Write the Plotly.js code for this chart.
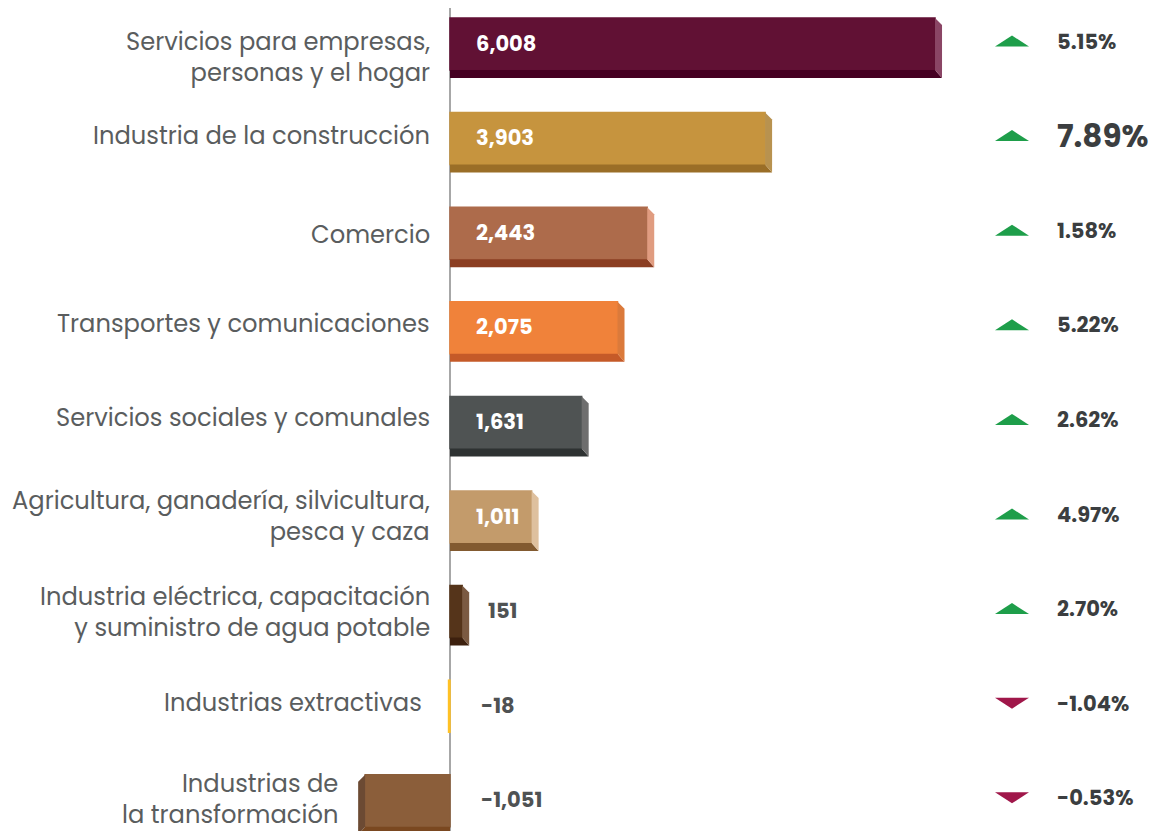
<!DOCTYPE html>
<html><head><meta charset="utf-8">
<script src="https://cdn.plot.ly/plotly-3.0.1.min.js"></script>
<style>html,body{margin:0;padding:0;background:#fff}#chart{width:1156px;height:831px}</style>
</head><body><div id="chart"></div>
<script>
const categories = [
  "Servicios para empresas,<br>personas y el hogar",
  "Industria de la construcción",
  "Comercio",
  "Transportes y comunicaciones",
  "Servicios sociales y comunales",
  "Agricultura, ganadería, silvicultura,<br>pesca y caza",
  "Industria eléctrica, capacitación<br>y suministro de agua potable",
  "Industrias extractivas",
  "Industrias de<br>la transformación"
];
const values = [6008, 3903, 2443, 2075, 1631, 1011, 151, -18, -1051];
const valueLabels = ["6,008", "3,903", "2,443", "2,075", "1,631", "1,011", "151", "-18", "-1,051"];
const pctChange = [5.15, 7.89, 1.58, 5.22, 2.62, 4.97, 2.70, -1.04, -0.53];
const pctLabels = ["5.15%", "7.89%", "1.58%", "5.22%", "2.62%", "4.97%", "2.70%", "-1.04%", "-0.53%"];

const frontColors = ["#611134","#C6943E","#AD6B4B","#F0823A","#4F5353","#C39B6B","#55341A","#FFC125","#8B5E3A"];
const bottomColors = ["#450022","#9A6E27","#8B3E22","#C55A28","#2E3232","#825A30","#3D200E","#FFC125","#7A4820"];
const sideColors = ["#8A4565","#B8924F","#E09C80","#DB7A3B","#6E6E6E","#DEC09E","#7B5A42","#FFC125","#6C4A33"];
const labelYShift = [-13, 3, -1, 4, 5, 1, 0, 4, 2];

const FONT = 'Poppins, Inter, "Open Sans", sans-serif';
const W = 1156, H = 831;
const pxPerUnit = 0.08073;      // horizontal scale
const zeroPx = 450;
const xMin = -zeroPx / pxPerUnit, xMax = (W - zeroPx) / pxPerUnit;
const rowPx = 94.6, firstCenterPx = 48;
const yTop = -firstCenterPx / rowPx, yBottom = yTop + H / rowPx;

const half = 30 / rowPx;          // half bar height (60px)
const bevelH = 8 / rowPx;         // bottom bevel height
const bevelDy = 7 / rowPx;        // top slant of side
const bevelDxPx = 7;

const idx = values.map((v, i) => i);
const maxAbsPct = Math.max(...pctChange.map(Math.abs));

const shapes = [];
const annotations = [];

values.forEach((v, i) => {
  const s = v >= 0 ? 1 : -1;
  const dx = s * Math.min(bevelDxPx, Math.abs(v) * pxPerUnit) / pxPerUnit;
  const top = i - half, bot = i + half, fb = i + half - bevelH;
  if (Math.abs(v) * pxPerUnit > 4) {
    shapes.push({type:'path', xref:'x', yref:'y', layer:'above', line:{width:0},
      fillcolor: bottomColors[i],
      path:`M 0 ${fb} L ${v} ${fb} L ${v+dx} ${bot} L 0 ${bot} Z`});
    shapes.push({type:'path', xref:'x', yref:'y', layer:'above', line:{width:0},
      fillcolor: sideColors[i],
      path:`M ${v} ${top} L ${v+dx} ${top+bevelDy} L ${v+dx} ${bot} L ${v} ${fb} Z`});
  }

  const inside = v > 500;
  annotations.push({xref:'x', yref:'y', x: inside ? 0 : Math.max(v,0), y: i - bevelH/2,
    xanchor:'left', yanchor:'middle', xshift: v < 0 ? 29 : 24, yshift: 1, showarrow:false,
    text:'<b>'+valueLabels[i]+'</b>',
    font:{family:FONT, size:21, color: inside ? '#ffffff' : '#4f5253'}});

  annotations.push({xref:'x', yref:'y', x: Math.min(v,0), y: i - bevelH/2,
    xanchor:'right', yanchor:'middle', align:'right', xshift: v < 0 ? -25 : -18,
    yshift: labelYShift[i], showarrow:false,
    text: categories[i],
    font:{family:FONT, size:24.2, color:'#5a5d5e'}});

  const up = pctChange[i] >= 0;
  const cx = 1012 / W, hw = 17 / W, th = 11 / rowPx, cy = i - bevelH/2 - 3/rowPx;
  const path = up
    ? `M ${cx-hw} ${cy+th/2} L ${cx+hw} ${cy+th/2} L ${cx} ${cy-th/2} Z`
    : `M ${cx-hw} ${cy-th/2} L ${cx+hw} ${cy-th/2} L ${cx} ${cy+th/2} Z`;
  shapes.push({type:'path', xref:'paper', yref:'y', line:{width:0},
    fillcolor: up ? '#1E9E4A' : '#A0174A', path});

  const big = Math.abs(pctChange[i]) === maxAbsPct;
  annotations.push({xref:'paper', yref:'y', x: 1055 / W, y: i - bevelH/2 - 3/rowPx,
    xanchor:'left', yanchor:'middle', showarrow:false,
    text:'<b>'+pctLabels[i]+'</b>',
    font:{family:FONT, size: big ? 31 : 21, color:'#3b3e40'}});
});

shapes.unshift({type:'line', xref:'x', yref:'paper', x0:0, x1:0, y0:0, y1:(H-8)/H,
  line:{color:'#8a8a8a', width:1.5}, layer:'below'});

const trace = {
  type:'bar', orientation:'h',
  x: values, y: idx,
  width: values.map(() => 2*half - bevelH),
  offset: values.map(() => -half),
  marker:{color: frontColors, line:{width:1.5, color: frontColors}},
  hoverinfo:'skip', textposition:'none'
};

const layout = {
  width: W, height: H,
  margin:{l:0, r:0, t:0, b:0},
  paper_bgcolor:'#ffffff', plot_bgcolor:'#ffffff',
  showlegend:false,
  xaxis:{range:[xMin, xMax], visible:false, fixedrange:true},
  yaxis:{range:[yBottom, yTop], visible:false, fixedrange:true},
  shapes, annotations, bargap:0
};

Plotly.newPlot('chart', [trace], layout, {staticPlot:true, displayModeBar:false});
</script>
</body></html>
